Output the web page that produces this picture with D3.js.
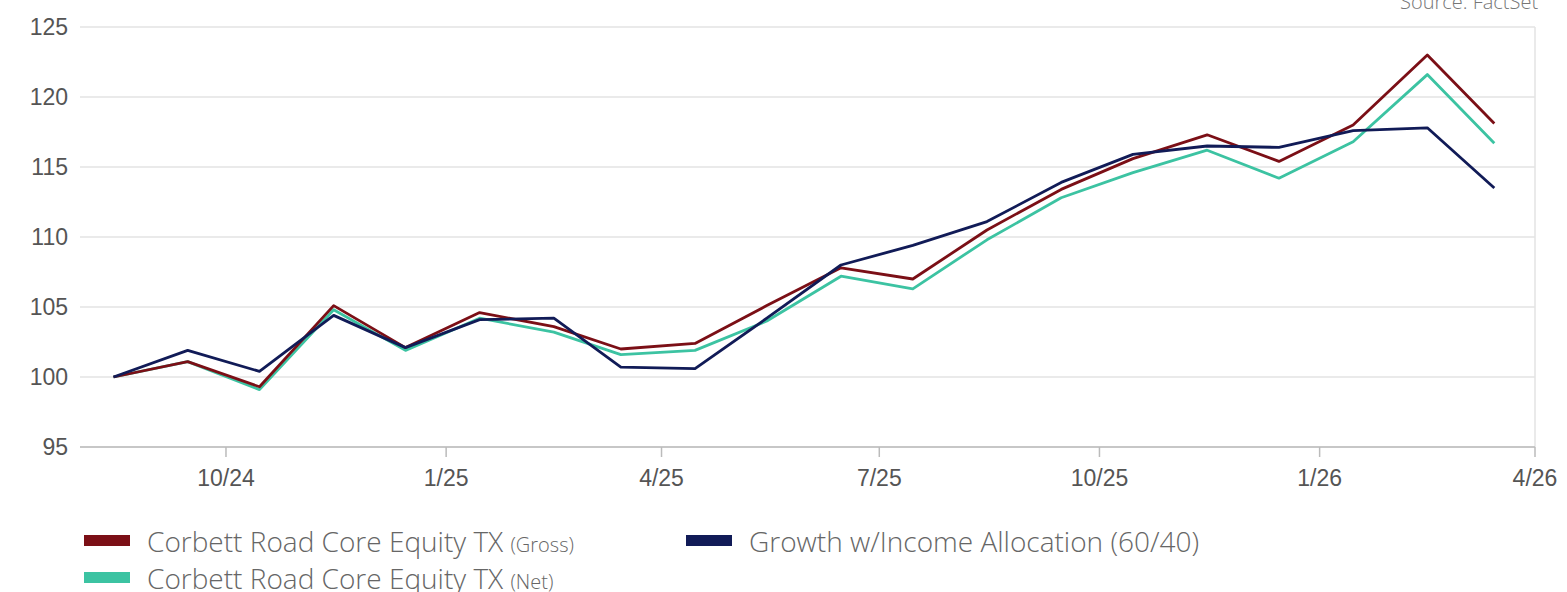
<!DOCTYPE html>
<html><head><meta charset="utf-8">
<script src="https://cdn.jsdelivr.net/npm/d3@7"></script>
<style>body{margin:0;background:#fff}</style>
</head><body><svg></svg>
<script>
var dates = ["2024-08-15","2024-09-15","2024-10-15","2024-11-15","2024-12-15","2025-01-15","2025-02-15","2025-03-15","2025-04-15","2025-05-15","2025-06-15","2025-07-15","2025-08-15","2025-09-15","2025-10-15","2025-11-15","2025-12-15","2026-01-15","2026-02-15","2026-03-15"];
var gross = [100,101.1,99.3,105.1,102.1,104.6,103.6,102.0,102.4,105.1,107.8,107.0,110.5,113.4,115.6,117.3,115.4,118.0,123.0,118.1];
var net = [100,101.1,99.1,104.8,101.9,104.2,103.2,101.6,101.9,104.0,107.2,106.3,109.8,112.8,114.6,116.2,114.2,116.8,121.6,116.7];
var alloc = [100,101.9,100.4,104.4,102.1,104.1,104.2,100.7,100.6,104.2,108.0,109.4,111.1,113.9,115.9,116.5,116.4,117.6,117.8,113.5];
var yTicks = [95,100,105,110,115,120,125];
var xTicks = ["2024-10-01","2025-01-01","2025-04-01","2025-07-01","2025-10-01","2026-01-01","2026-04-01"];
var xTickLabels = ["10/24","1/25","4/25","7/25","10/25","1/26","4/26"];

var W = 1567, H = 592;
var margin = {top: 27, right: 32, bottom: 145, left: 80},
	width = W - margin.left - margin.right,
	height = H - margin.top - margin.bottom;
var parse = d3.timeParse("%Y-%m-%d");

var svg = d3.select("svg").attr("width", W).attr("height", H);
var canvas = svg.append("g").attr("transform", `translate(${margin.left}, ${margin.top})`);

var x = d3.scaleTime()
	.domain([parse("2024-08-01"), parse("2026-04-01")])
	.range([0, width]);
var y = d3.scaleLinear().domain([95, 125]).range([height, 0]);

// grid
canvas.selectAll(".grid").data(yTicks).enter().append("line")
	.attr("x1", 0).attr("x2", width)
	.attr("y1", d => y(d)).attr("y2", d => y(d))
	.attr("stroke", "#e3e3e3").attr("stroke-width", 1.5);
canvas.append("line").attr("x1", width).attr("x2", width).attr("y1", 0).attr("y2", height)
	.attr("stroke", "#e3e3e3").attr("stroke-width", 1.5);
canvas.append("line").attr("x1", 0).attr("x2", width).attr("y1", height).attr("y2", height)
	.attr("stroke", "#bbb").attr("stroke-width", 1.5);
canvas.selectAll(".xt").data(xTicks).enter().append("line")
	.attr("x1", d => x(parse(d))).attr("x2", d => x(parse(d)))
	.attr("y1", height).attr("y2", height + 10)
	.attr("stroke", "#bbb").attr("stroke-width", 1.5);

canvas.selectAll(".yl").data(yTicks).enter().append("text")
	.attr("x", -12).attr("y", d => y(d)).attr("dy", "0.35em")
	.attr("text-anchor", "end").attr("font-family", "Liberation Sans, Arial").attr("font-size", 23)
	.attr("fill", "#555").text(d => d);
canvas.selectAll(".xl").data(xTicks).enter().append("text")
	.attr("x", d => x(parse(d))).attr("y", height + 39)
	.attr("text-anchor", "middle").attr("font-family", "Liberation Sans, Arial").attr("font-size", 23)
	.attr("fill", "#555").text((d, i) => xTickLabels[i]);

var series = [
	{vals: net, color: "#3cc3a2"},
	{vals: gross, color: "#7b0f16"},
	{vals: alloc, color: "#111b57"}
];
var line = d3.line().x((d, i) => x(parse(dates[i]))).y(d => y(d));
canvas.selectAll(".ser").data(series).enter().append("path")
	.attr("d", d => line(d.vals)).attr("fill", "none")
	.attr("stroke", d => d.color).attr("stroke-width", 2.8).attr("stroke-linejoin", "round");

svg.append("text").attr("x", 1400).attr("y", 9).attr("font-family", "Open Sans").attr("font-weight", 300)
	.attr("font-size", 20).attr("fill", "#777").text("Source: FactSet");

var legend = [
	{x: 84, y: 542, color: "#7b0f16", main: "Corbett Road Core Equity TX ", sub: "(Gross)"},
	{x: 84, y: 579, color: "#3cc3a2", main: "Corbett Road Core Equity TX ", sub: "(Net)"},
	{x: 686, y: 542, color: "#111b57", main: "Growth w/Income Allocation (60/40)", sub: ""}
];
var lg = svg.selectAll(".lg").data(legend).enter().append("g");
lg.append("rect").attr("x", d => d.x).attr("y", d => d.y - 7).attr("width", 46).attr("height", 11).attr("fill", d => d.color);
var t = lg.append("text").attr("x", d => d.x + 63).attr("y", d => d.y + 10)
	.attr("font-family", "Open Sans").attr("font-weight", 300).attr("fill", "#666");
t.append("tspan").attr("font-size", 28).text(d => d.main);
t.append("tspan").attr("font-size", 20).text(d => d.sub);
</script></body></html>
